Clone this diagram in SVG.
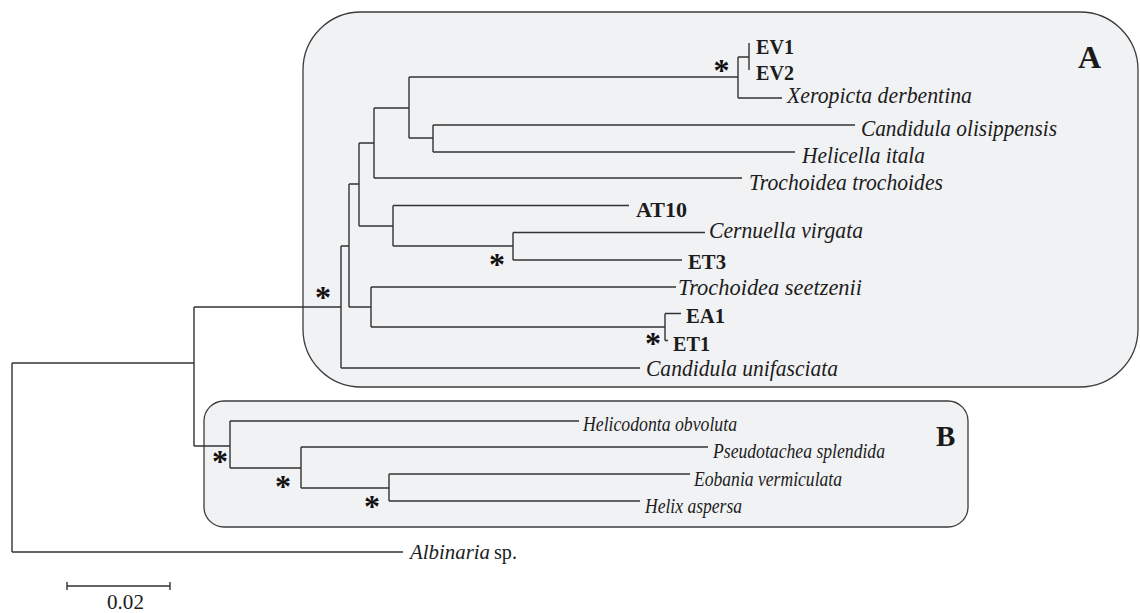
<svg xmlns="http://www.w3.org/2000/svg" width="1140" height="613" viewBox="0 0 1140 613">
<style>
.box{fill:#f1f2f4;stroke:#3c3c3c;stroke-width:1.3}
.br{fill:none;stroke:#333;stroke-width:1.4}
text{font-family:"Liberation Serif","Times New Roman",serif;fill:#1c1c1c}
.it{font-style:italic;font-size:22.5px}
.itb{font-style:italic;font-size:20px}
.bd{font-weight:bold;font-size:21px}
.cl{font-weight:bold;font-size:32px;fill:#1a1a1a}
.ast{font-weight:bold;font-size:32px;fill:#111;text-anchor:middle}
.rg{font-size:21px}
</style>
<rect width="1140" height="613" fill="#ffffff"/>
<g id="cladeA"><rect class="box" x="303" y="12" width="835" height="375" rx="58" ry="58"/><text class="cl" x="1078" y="68">A</text></g>
<g id="cladeB"><rect class="box" x="204" y="401" width="764" height="126" rx="20" ry="20"/><text class="cl" x="936" y="446" style="font-size:29px">B</text></g>
<g id="connectors">
<path class="br" d="M12 363V552M12 363H194M12 552H403
M194 307V446M194 307H341M194 446H230
M341 246V368M341 246H349M341 368H640
M349 184V307M349 184H359M349 307H371
M359 143V226M359 143H374M359 226H393
M374 108V178M374 108H409M374 178H742
M409 77V138M409 77H738M409 138H433
M433 125V152M433 125H855M433 152H795
M738 57V98M738 57H749M738 98H782
M749 43V70
M393 205.5V246M393 205.5H629M393 246H513
M513 232.5V260M513 232.5H705M513 260H682
M371 287V327M371 287H676M371 327H665
M665 313.5V340.5M665 313.5H681M665 340.5H668
M230 421V468M230 421H579M230 468H301
M301 447V488M301 447H708M301 488H389
M389 474V501M389 474H690M389 501H640"/>
</g>
<g id="support">
<text class="ast" x="721.5" y="81">*</text>
<text class="ast" x="497" y="275">*</text>
<text class="ast" x="323" y="308">*</text>
<text class="ast" x="653" y="354">*</text>
<text class="ast" x="220" y="472">*</text>
<text class="ast" x="283" y="497">*</text>
<text class="ast" x="372" y="517">*</text>
</g>
<g id="EV1"><text class="bd" x="756" y="53.5" textLength="38" lengthAdjust="spacingAndGlyphs">EV1</text></g>
<g id="EV2"><text class="bd" x="756" y="80" textLength="38" lengthAdjust="spacingAndGlyphs">EV2</text></g>
<g id="Xeropicta"><text class="it" x="787" y="102.5" textLength="185" lengthAdjust="spacingAndGlyphs">Xeropicta derbentina</text></g>
<g id="Candidula_olisippensis"><text class="it" x="861" y="135.5" textLength="196" lengthAdjust="spacingAndGlyphs">Candidula olisippensis</text></g>
<g id="Helicella_itala"><text class="it" x="802" y="163" textLength="123" lengthAdjust="spacingAndGlyphs">Helicella itala</text></g>
<g id="Trochoidea_trochoides"><text class="it" x="749" y="189.5" textLength="194" lengthAdjust="spacingAndGlyphs">Trochoidea trochoides</text></g>
<g id="AT10"><text class="bd" x="636" y="216.5" textLength="51" lengthAdjust="spacingAndGlyphs">AT10</text></g>
<g id="Cernuella_virgata"><text class="it" x="709" y="237.5" textLength="154" lengthAdjust="spacingAndGlyphs">Cernuella virgata</text></g>
<g id="ET3"><text class="bd" x="688" y="268.5" textLength="38" lengthAdjust="spacingAndGlyphs">ET3</text></g>
<g id="Trochoidea_seetzenii"><text class="it" x="678" y="295" textLength="184" lengthAdjust="spacingAndGlyphs">Trochoidea seetzenii</text></g>
<g id="EA1"><text class="bd" x="686" y="322.5" textLength="39" lengthAdjust="spacingAndGlyphs">EA1</text></g>
<g id="ET1"><text class="bd" x="673" y="350.5" textLength="37" lengthAdjust="spacingAndGlyphs">ET1</text></g>
<g id="Candidula_unifasciata"><text class="it" x="646" y="375.5" textLength="192" lengthAdjust="spacingAndGlyphs">Candidula unifasciata</text></g>
<g id="Helicodonta"><text class="itb" x="583" y="430.5" textLength="154" lengthAdjust="spacingAndGlyphs">Helicodonta obvoluta</text></g>
<g id="Pseudotachea"><text class="itb" x="713" y="458" textLength="172" lengthAdjust="spacingAndGlyphs">Pseudotachea splendida</text></g>
<g id="Eobania"><text class="itb" x="694" y="486" textLength="148" lengthAdjust="spacingAndGlyphs">Eobania vermiculata</text></g>
<g id="Helix"><text class="itb" x="645" y="512.5" textLength="97" lengthAdjust="spacingAndGlyphs">Helix aspersa</text></g>
<g id="Albinaria"><text class="rg" x="410" y="558.5" font-style="italic" textLength="80" lengthAdjust="spacingAndGlyphs">Albinaria</text><text class="rg" x="494" y="558.5" textLength="23" lengthAdjust="spacingAndGlyphs">sp.</text></g>
<g id="scalebar">
<path class="br" d="M67 586H170M67 582V590M170 582V590"/>
<text class="rg" x="107" y="609" textLength="37" lengthAdjust="spacingAndGlyphs">0.02</text>
</g>
</svg>
